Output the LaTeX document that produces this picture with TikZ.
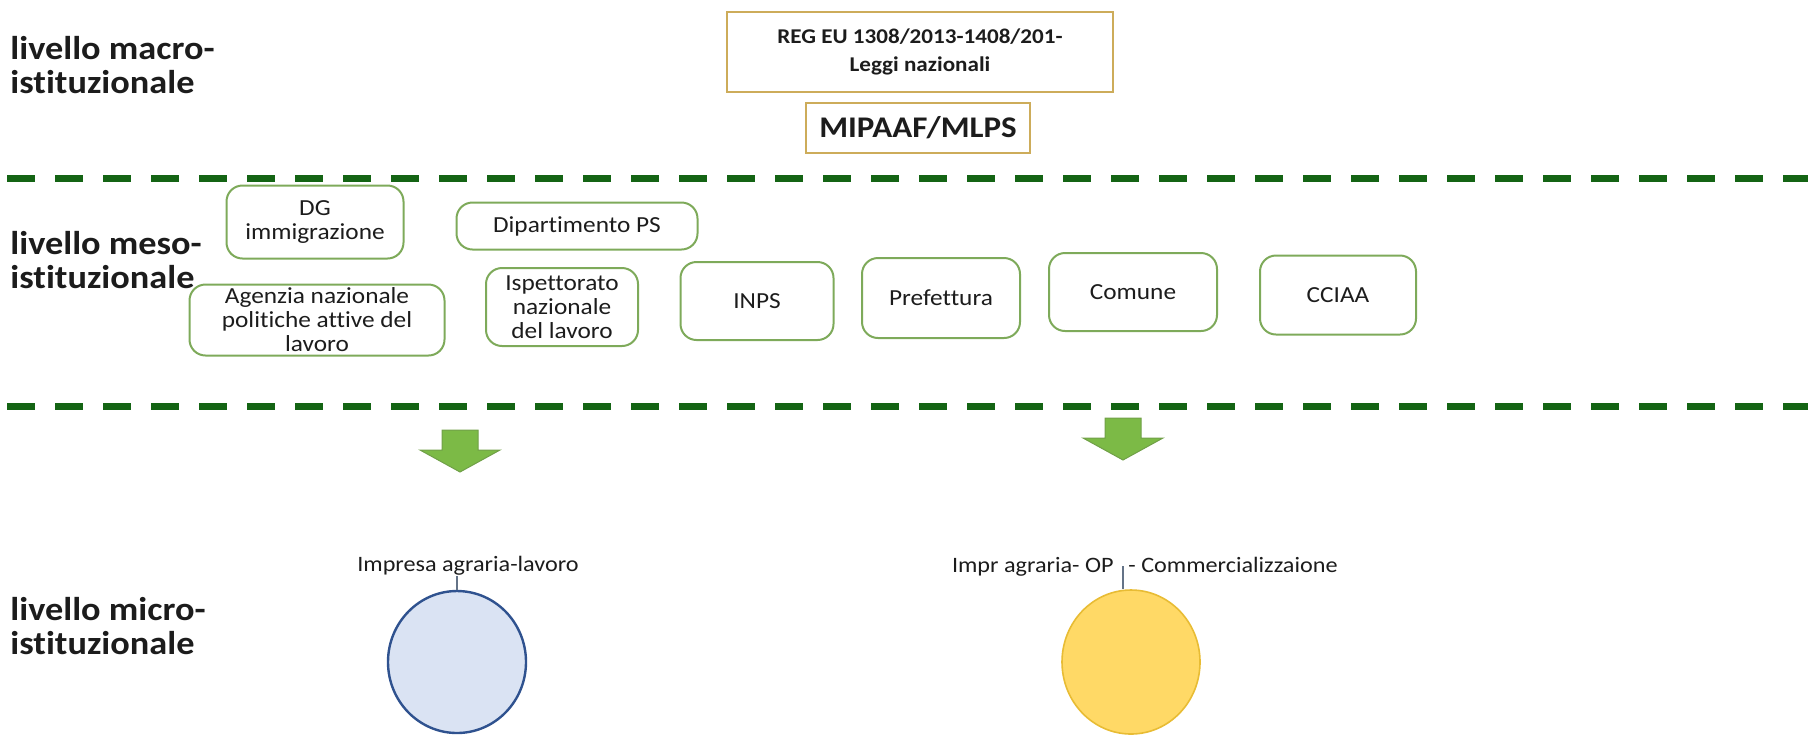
\documentclass[tikz,border=0pt]{standalone}
\usepackage{fontspec}
\setmainfont{Carlito}[FakeStretch=1.1, Ligatures=NoCommon]
\usetikzlibrary{positioning,shapes.geometric}

\definecolor{dashgreen}{RGB}{20,100,20}
\definecolor{boxgreen}{RGB}{126,170,90}
\definecolor{goldline}{RGB}{205,172,90}
\definecolor{arrowgreen}{RGB}{124,186,70}
\definecolor{arrowedge}{RGB}{112,160,72}
\definecolor{blueball}{RGB}{218,227,243}
\definecolor{blueedge}{RGB}{47,82,143}
\definecolor{yellowball}{RGB}{255,217,102}
\definecolor{yellowedge}{RGB}{232,188,52}
\definecolor{txt}{RGB}{28,28,28}
\definecolor{stem}{RGB}{100,115,135}

\tikzset{
  levellabel/.style={anchor=west, align=left, inner sep=0pt, text=txt,
    font=\fontsize{16.5}{17}\selectfont\bfseries},
  lawbox/.style={draw=goldline, line width=0.6pt, align=center, inner sep=0pt, text=txt},
  mesobox/.style={draw=boxgreen, line width=1pt, rounded corners=8pt, align=center,
    inner sep=0pt, text=txt, font=\fontsize{11.5}{12}\selectfont},
  levelline/.style={dashgreen, line width=3.5pt, dash pattern=on 14pt off 10pt},
  downarrow/.style={fill=arrowgreen, draw=arrowedge, line width=0.5pt},
  microtext/.style={inner sep=0pt, text=txt, font=\fontsize{11}{12}\selectfont},
  ball/.style={ellipse, inner sep=0pt, minimum width=69pt},
}

\begin{document}
\begin{tikzpicture}[x=0.5pt, y=-0.5pt]
    \useasboundingbox (0,0) rectangle (1808,736);

    % level labels
    \node[levellabel] (macro) at (10,65) {livello macro-\\istituzionale};
    \node[levellabel] (meso) at (10,260) {livello meso-\\istituzionale};
    \node[levellabel] (micro) at (10,626) {livello micro-\\istituzionale};

    % macro level
    \node[lawbox, minimum width=193pt, minimum height=40pt,
          font=\fontsize{10.5}{14}\selectfont\bfseries] (reg) at (920,52)
          {REG EU 1308/2013-1408/201-\\Leggi nazionali};
    \node[lawbox, minimum width=112pt, minimum height=25pt,
          font=\fontsize{15}{18}\selectfont\bfseries] (mipaaf) at (918,128) {MIPAAF/MLPS};

    % separators
    \draw[levelline] (7,178) -- (1808,178);
    \draw[levelline] (7,406) -- (1808,406);

    % meso level
    \node[mesobox, minimum width=88.5pt, minimum height=36.5pt] (dg) at (315,222) {DG\\immigrazione};
    \node[mesobox, minimum width=120.5pt, minimum height=23.5pt] (dps) at (577,226) {Dipartimento PS};
    \node[mesobox, minimum width=127.5pt, minimum height=35.5pt] (anpal) at (317,320)
          {Agenzia nazionale\\politiche attive del\\lavoro};
    \node[mesobox, minimum width=76pt, minimum height=39pt] (inl) at (562,307)
          {Ispettorato\\nazionale\\del lavoro};
    \node[mesobox, minimum width=76.5pt, minimum height=39pt] (inps) at (757,301) {INPS};
    \node[mesobox, minimum width=79pt, minimum height=40pt] (pref) at (941,298) {Prefettura};
    \node[mesobox, minimum width=84pt, minimum height=39pt] (comune) at (1133,292) {Comune};
    \node[mesobox, minimum width=78pt, minimum height=39.5pt] (cciaa) at (1338,295) {CCIAA};

    % micro level
    \coordinate (arrL) at (460,430);
    \coordinate (arrR) at (1123,418);
    \filldraw[downarrow] (arrL) ++(-18,0) -- ++(36,0) -- ++(0,20) -- ++(22,0)
        -- ++(-40,22) -- ++(-40,-22) -- ++(22,0) -- cycle;
    \filldraw[downarrow] (arrR) ++(-18,0) -- ++(36,0) -- ++(0,20) -- ++(22,0)
        -- ++(-40,22) -- ++(-40,-22) -- ++(22,0) -- cycle;

    \node[microtext] (impL) at (468,566) {Impresa agraria-lavoro};
    \node[ball, minimum height=71pt, fill=blueball, draw=blueedge, line width=1.2pt] (ballL) at (457,662) {};
    \draw[stem, line width=0.6pt] (ballL.north) -- (ballL.north |- impL.south);

    \node[microtext, anchor=base east] (impRa) at (1114,572) {Impr agraria- OP};
    \node[microtext, base right=7pt of impRa] (impRb) {- Commercializzaione};
    \node[ball, minimum height=72pt, fill=yellowball, draw=yellowedge, line width=0.8pt] (ballR) at (1131,662) {};
    \draw[stem, line width=0.6pt] (ballR.north -| arrR) -- (arrR |- impRa.center);
\end{tikzpicture}
\end{document}
